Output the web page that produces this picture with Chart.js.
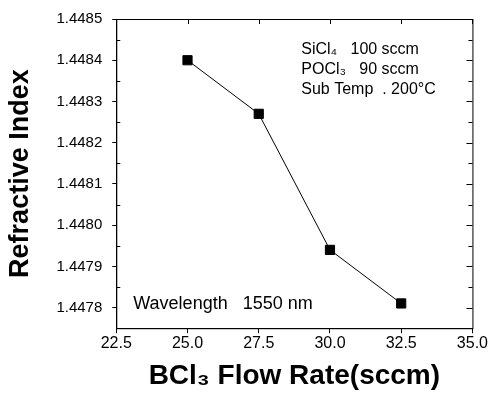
<!DOCTYPE html>
<html>
<head>
<meta charset="utf-8">
<script src="https://cdn.jsdelivr.net/npm/chart.js@4"></script>
<style>
  html, body { margin: 0; padding: 0; background: #fff; }
  #wrap { width: 489px; height: 394px; }
</style>
</head>
<body>
<div id="wrap"><canvas id="chart" width="489" height="394"></canvas></div>
<script>
// data
const flowRates = [25.0, 27.5, 30.0, 32.5];
const refIndex = [1.44840, 1.44827, 1.44794, 1.44781];
const xTicks = [22.5, 25.0, 27.5, 30.0, 32.5, 35.0];
const yTicks = [1.4478, 1.4479, 1.4480, 1.4481, 1.4482, 1.4483, 1.4484, 1.4485];
const notes = ['SiCl\u2084   100 sccm', 'POCl\u2083   90 sccm', 'Sub Temp  . 200\u00B0C'];
const waveNote = 'Wavelength   1550 nm';

const font = 'Arial, "Liberation Sans", sans-serif';

// frame, inner ticks and the text notes
const framePlugin = {
    id: 'frame',
    afterDraw(chart) {
        let ctx = chart.ctx;
        let a = chart.chartArea;
        let xs = chart.scales.x;
        let ys = chart.scales.y;
        ctx.save();
        ctx.strokeStyle = '#000';
        ctx.lineWidth = 1;
        ctx.strokeRect(a.left + 0.5, a.top + 0.5, a.right - a.left, a.bottom - a.top);

        ctx.beginPath();
        // minor ticks on left (inside) and right (inside)
        for (let i = 0; i < yTicks.length - 1; i++) {
            let v = (yTicks[i] + yTicks[i + 1]) / 2;
            let py = Math.round(ys.getPixelForValue(v)) + 0.5;
            ctx.moveTo(a.left, py); ctx.lineTo(a.left + 4, py);
            ctx.moveTo(a.right, py); ctx.lineTo(a.right - 4, py);
        }
        yTicks.forEach(v => {
            let py = Math.round(ys.getPixelForValue(v)) + 0.5;
            ctx.moveTo(a.right, py); ctx.lineTo(a.right - 6, py);
        });
        // ticks on top (inside)
        xTicks.forEach(v => {
            let px = Math.round(xs.getPixelForValue(v)) + 0.5;
            ctx.moveTo(px, a.top); ctx.lineTo(px, a.top + 5);
        });
        ctx.stroke();

        ctx.fillStyle = '#000';
        ctx.font = '16px ' + font;
        ctx.textBaseline = 'middle';
        notes.forEach((t, i) => {
            ctx.fillText(t, a.left + 185, a.top + 31 + i * 20);
        });
        ctx.font = '18px ' + font;
        ctx.fillText(waveNote, a.left + 17, a.bottom - 24);
        ctx.restore();
    }
};

let ctx = document.getElementById('chart').getContext('2d');

let myChart = new Chart(ctx, {
    type: 'scatter',
    data: {
        datasets: [{
            data: flowRates.map((x, i) => ({ x: x, y: refIndex[i] })),
            showLine: true,
            borderColor: '#000',
            backgroundColor: '#000',
            borderWidth: 1,
            pointStyle: 'rect',
            pointRadius: 6.5,
            pointHoverRadius: 6.5
        }]
    },
    options: {
        responsive: false,
        animation: false,
        layout: { padding: { top: 17, right: 12, left: 4, bottom: 1 } },
        plugins: { legend: { display: false }, tooltip: { enabled: false } },
        scales: {
            x: {
                type: 'linear',
                min: 22.5,
                max: 35.0,
                afterBuildTicks: axis => { axis.ticks = xTicks.map(v => ({ value: v })); },
                ticks: {
                    color: '#000',
                    font: { size: 16, family: font },
                    padding: 1,
                    maxRotation: 0,
                    callback: v => v.toFixed(1)
                },
                grid: { drawOnChartArea: false, drawTicks: true, tickLength: 5, color: '#000' },
                border: { display: true, color: '#000' },
                title: {
                    display: true,
                    text: 'BCl\u2083 Flow Rate(sccm)',
                    color: '#000',
                    font: { size: 28, weight: 'bold', family: font },
                    padding: { top: 5, bottom: 0 }
                }
            },
            y: {
                type: 'linear',
                min: 1.44775,
                max: 1.4485,
                afterBuildTicks: axis => { axis.ticks = yTicks.map(v => ({ value: v })); },
                ticks: {
                    color: '#000',
                    font: { size: 15, family: font },
                    padding: 10,
                    callback: v => v.toFixed(4)
                },
                grid: { drawOnChartArea: false, drawTicks: true, tickLength: 4, color: '#000' },
                border: { display: true, color: '#000' },
                title: {
                    display: true,
                    text: 'Refractive Index',
                    color: '#000',
                    font: { size: 27, weight: 'bold', family: font },
                    padding: { top: 0, bottom: 10 }
                }
            }
        }
    },
    plugins: [framePlugin]
});
</script>
</body>
</html>
